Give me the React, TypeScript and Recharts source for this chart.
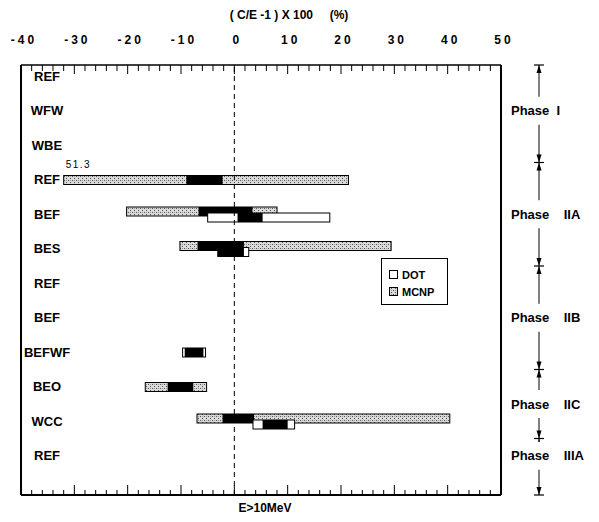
import React from 'react';
import { BarChart, Bar, XAxis, YAxis, ReferenceLine, Legend, Label } from 'recharts';

// configurations, top to bottom
const rows = ['REF', 'WFW', 'WBE', 'REF', 'BEF', 'BES', 'REF', 'BEF', 'BEFWF', 'BEO', 'WCC', 'REF'];

// MCNP spread of (C/E -1) x 100, and its dark inner part
const mcnpLow = [null, null, null, -32.0, -20.2, -10.2, null, null, null, -16.7, -7.0, null];
const mcnpHigh = [null, null, null, 21.4, 8.0, 29.4, null, null, null, -5.2, 40.4, null];
const mcnpInLow = [null, null, null, -9.0, -6.7, -6.9, null, null, null, -12.5, -2.2, null];
const mcnpInHigh = [null, null, null, -2.2, 3.4, 1.8, null, null, null, -7.7, 3.7, null];

// DOT spread and its dark inner part
const dotLow = [null, null, null, null, -5.0, -3.1, null, null, -9.7, null, 3.5, null];
const dotHigh = [null, null, null, null, 17.9, 2.7, null, null, -5.4, null, 11.3, null];
const dotInLow = [null, null, null, null, 0.6, -3.1, null, null, -9.3, null, 5.3, null];
const dotInHigh = [null, null, null, null, 5.3, 1.8, null, null, -5.8, null, 10.0, null];

const notes = ['', '', '', '51.3', '', '', '', '', '', '', '', ''];

const majorTicks = [-40, -30, -20, -10, 0, 10, 20, 30, 40, 50];

const phaseNames = ['Phase\u00A0\u00A0I', 'Phase\u00A0\u00A0\u00A0\u00A0IIA', 'Phase\u00A0\u00A0\u00A0\u00A0IIB', 'Phase\u00A0\u00A0\u00A0\u00A0IIC', 'Phase\u00A0\u00A0\u00A0\u00A0IIIA'];
const phaseRows = [3, 3, 3, 2, 1];

const FONT = '"Liberation Sans", Arial, Helvetica, sans-serif';
const W = 599;
const H = 522;
const TOP_H = 65;
const BOTTOM_H = 27;
const PAD_TOP = -6;
const PAD_BOTTOM = 22;
const SHIFT = 3;

const data = rows.map((name, i) => ({
  idx: i,
  name,
  mcnp: mcnpLow[i] == null ? null : [mcnpLow[i], mcnpHigh[i]],
  mcnpIn: [mcnpInLow[i], mcnpInHigh[i]],
  dot: dotLow[i] == null ? null : [dotLow[i], dotHigh[i]],
  dotIn: [dotInLow[i], dotInHigh[i]],
  note: notes[i],
}));

// every 2 units between the labelled ticks
const allTicks: number[] = [];
majorTicks.forEach((t, i) => {
  allTicks.push(t);
  if (i < majorTicks.length - 1) for (let k = 2; k < 10; k += 2) allTicks.push(t + k);
});

// phase axis: numeric over the row index, scaled so integers sit on the row band edges
const plotH = H - TOP_H - BOTTOM_H;
const band = (plotH - PAD_TOP - PAD_BOTTOM) / rows.length;
const END_TOP = -PAD_TOP / band;
const END_BOTTOM = rows.length + PAD_BOTTOM / band;

const cum = [0];
phaseRows.forEach((n) => cum.push(cum[cum.length - 1] + n));
const phaseInfo = [
  ...cum.map((b, i) => ({
    value: i === 0 ? END_TOP : i === cum.length - 1 ? END_BOTTOM : b,
    kind: i === 0 ? 'top' : i === cum.length - 1 ? 'bottom' : 'mid',
    text: '',
  })),
  ...phaseNames.map((n, i) => ({ value: (cum[i] + cum[i + 1]) / 2, kind: 'label', text: n })),
];
const phaseTicks = phaseInfo.map((d) => d.value);

const makeShape = (kind: 'mcnp' | 'dot') => (props: any) => {
  const { x, y, width, height, payload } = props;
  const range = payload && payload[kind];
  if (!range || !(Math.abs(width) > 0)) return <g />;
  const inner = payload[kind + 'In'];
  const other = payload[kind === 'mcnp' ? 'dot' : 'mcnp'];
  const dy = other ? 0 : kind === 'mcnp' ? SHIFT : -SHIFT;
  const ppu = width / (range[1] - range[0]);
  const bx = x + (inner[0] - range[0]) * ppu;
  const bw = (inner[1] - inner[0]) * ppu;
  return (
    <g>
      <rect
        x={x}
        y={y + dy}
        width={width}
        height={height}
        fill={kind === 'mcnp' ? 'url(#stipple)' : '#fff'}
        stroke="#000"
        strokeWidth={1}
      />
      <rect x={bx} y={y + dy} width={bw} height={height} fill="#000" />
      {kind === 'mcnp' && payload.note ? (
        <text x={x + 2} y={y + dy - 8} fontFamily={FONT} fontSize={10} letterSpacing={1.5} fill="#000">
          {payload.note}
        </text>
      ) : null}
    </g>
  );
};

const topTick = (p: any) => {
  const v = p.payload.value;
  const major = v % 10 === 0;
  return (
    <g>
      <line x1={p.x} x2={p.x} y1={p.y} y2={p.y + (major ? 9 : 6)} stroke="#000" strokeWidth={1} />
      {major ? (
        <text x={p.x + 3} y={p.y - 21.5} textAnchor="middle" fontFamily={FONT} fontWeight="bold" fontSize={12} letterSpacing={3} fill="#000">
          {v}
        </text>
      ) : null}
    </g>
  );
};

const bottomTick = (p: any) => {
  const major = p.payload.value % 10 === 0;
  return <line x1={p.x} x2={p.x} y1={p.y} y2={p.y - (major ? 10 : 5)} stroke="#000" strokeWidth={1} />;
};

const rowTick = (p: any) => (
  <text x={p.x + 26} y={p.y + 4.5} textAnchor="middle" fontFamily={FONT} fontWeight="bold" fontSize={13} fill="#000">
    {rows[p.payload.value]}
  </text>
);

const phaseTick = (p: any) => {
  const info = phaseInfo.find((d) => Math.abs(d.value - p.payload.value) < 1e-6);
  if (!info) return <g />;
  const { x, y } = p;
  const up = <polygon points={`${x - 2.5},${y + 8} ${x + 2.5},${y + 8} ${x},${y}`} fill="#000" />;
  const down = <polygon points={`${x - 2.5},${y - 8} ${x + 2.5},${y - 8} ${x},${y}`} fill="#000" />;
  const bar = <line x1={x - 5} x2={x + 5} y1={y} y2={y} stroke="#000" strokeWidth={1.2} />;
  if (info.kind === 'label') {
    return (
      <g>
        <rect x={x - 3} y={y - 14} width={6} height={28} fill="#fff" />
        <text x={x - 28} y={y + 4.5} fontFamily={FONT} fontWeight="bold" fontSize={13} fill="#000">
          {info.text}
        </text>
      </g>
    );
  }
  return (
    <g>
      {bar}
      {info.kind !== 'bottom' ? up : null}
      {info.kind !== 'top' ? down : null}
    </g>
  );
};

const renderLegend = (props: any) => {
  const order = ['DOT', 'MCNP'];
  const items = [...(props.payload || [])].sort((a: any, b: any) => order.indexOf(a.value) - order.indexOf(b.value));
  return (
    <svg width={67} height={47} style={{ display: 'block' }}>
      <rect x={0.5} y={0.5} width={66} height={46} fill="#fff" stroke="#000" strokeWidth={1} />
      {items.map((it: any, i: number) => (
        <g key={it.value}>
          <rect
            x={8.5}
            y={12.5 + i * 17}
            width={8}
            height={8}
            fill={it.value === 'MCNP' ? 'url(#stipple)' : '#fff'}
            stroke="#000"
          />
          <text x={21} y={20.5 + i * 17} fontFamily={FONT} fontWeight="bold" fontSize={11} fill="#000">
            {it.value}
          </text>
        </g>
      ))}
    </svg>
  );
};

const App = () => {
  return (
    <div style={{ position: 'absolute', left: 0, top: 0, background: '#fff' }}>
      <BarChart
        width={W}
        height={H}
        data={data}
        layout="vertical"
        barSize={9}
        barGap={-3}
        margin={{ top: 0, right: 0, bottom: 0, left: 0 }}
      >
        <defs>
          <pattern id="stipple" width="4" height="4" patternUnits="userSpaceOnUse">
            <rect width="4" height="4" fill="#dadada" />
            <rect x="0" y="0" width="1" height="1" fill="#555" />
            <rect x="2" y="2" width="1" height="1" fill="#555" />
            <rect x="2" y="0" width="1" height="1" fill="#999" />
          </pattern>
        </defs>
        <XAxis
          xAxisId="t"
          orientation="top"
          type="number"
          domain={[-40, 50]}
          ticks={allTicks}
          interval={0}
          height={TOP_H}
          tickSize={0}
          tickMargin={0}
          tickLine={false}
          axisLine={{ stroke: '#000', strokeWidth: 1.5 }}
          tick={topTick}
          allowDataOverflow
        >
          <Label
            content={(lp: any) => {
              const vb = lp.viewBox || { x: 21, y: 0, width: 480 };
              return (
                <text x={vb.x + vb.width / 2 + 28} y={vb.y + 19} textAnchor="middle" fontFamily={FONT} fontWeight="bold" fontSize={12} fill="#000">
                  {'( C/E -1 ) X 100\u00A0\u00A0\u00A0\u00A0\u00A0(%)'}
                </text>
              );
            }}
          />
        </XAxis>
        <XAxis
          xAxisId="b"
          orientation="bottom"
          type="number"
          domain={[-40, 50]}
          ticks={allTicks}
          interval={0}
          height={BOTTOM_H}
          tickSize={0}
          tickMargin={0}
          tickLine={false}
          axisLine={{ stroke: '#000', strokeWidth: 2 }}
          tick={bottomTick}
          allowDataOverflow
        >
          <Label
            content={(lp: any) => {
              const vb = lp.viewBox || { x: 21, y: 495, width: 480 };
              return (
                <text x={vb.x + vb.width / 2 + 4} y={vb.y + 17} textAnchor="middle" fontFamily={FONT} fontWeight="bold" fontSize={12} fill="#000">
                  E&gt;10MeV
                </text>
              );
            }}
          />
        </XAxis>
        <YAxis
          yAxisId="rows"
          type="category"
          dataKey="idx"
          width={21}
          padding={{ top: PAD_TOP, bottom: PAD_BOTTOM }}
          interval={0}
          tickSize={0}
          tickMargin={0}
          tickLine={false}
          axisLine={{ stroke: '#000', strokeWidth: 2 }}
          tick={rowTick}
        />
        <YAxis
          yAxisId="frame"
          orientation="right"
          type="number"
          domain={[0, 1]}
          ticks={[]}
          width={38}
          tick={false}
          tickLine={false}
          axisLine={{ stroke: '#000', strokeWidth: 2 }}
        />
        <YAxis
          yAxisId="phase"
          orientation="right"
          type="number"
          dataKey="idx"
          domain={[0, rows.length - 1]}
          padding={{ top: PAD_TOP, bottom: PAD_BOTTOM + band }}
          ticks={phaseTicks}
          interval={0}
          width={W - 539}
          tickSize={0}
          tickMargin={0}
          tickLine={false}
          axisLine={{ stroke: '#000', strokeWidth: 1 }}
          tick={phaseTick}
          allowDataOverflow
        />
        <ReferenceLine xAxisId="b" yAxisId="rows" x={0} stroke="#000" strokeWidth={1} strokeDasharray="5 4" />
        <Bar dataKey="mcnp" name="MCNP" xAxisId="b" yAxisId="rows" shape={makeShape('mcnp')} isAnimationActive={false} />
        <Bar dataKey="dot" name="DOT" xAxisId="b" yAxisId="rows" shape={makeShape('dot')} isAnimationActive={false} />
        <Legend
          layout="vertical"
          align="center"
          verticalAlign="middle"
          content={renderLegend}
          wrapperStyle={{ left: 381, top: 258, width: 67, height: 47 }}
        />
      </BarChart>
    </div>
  );
};

export default App;
